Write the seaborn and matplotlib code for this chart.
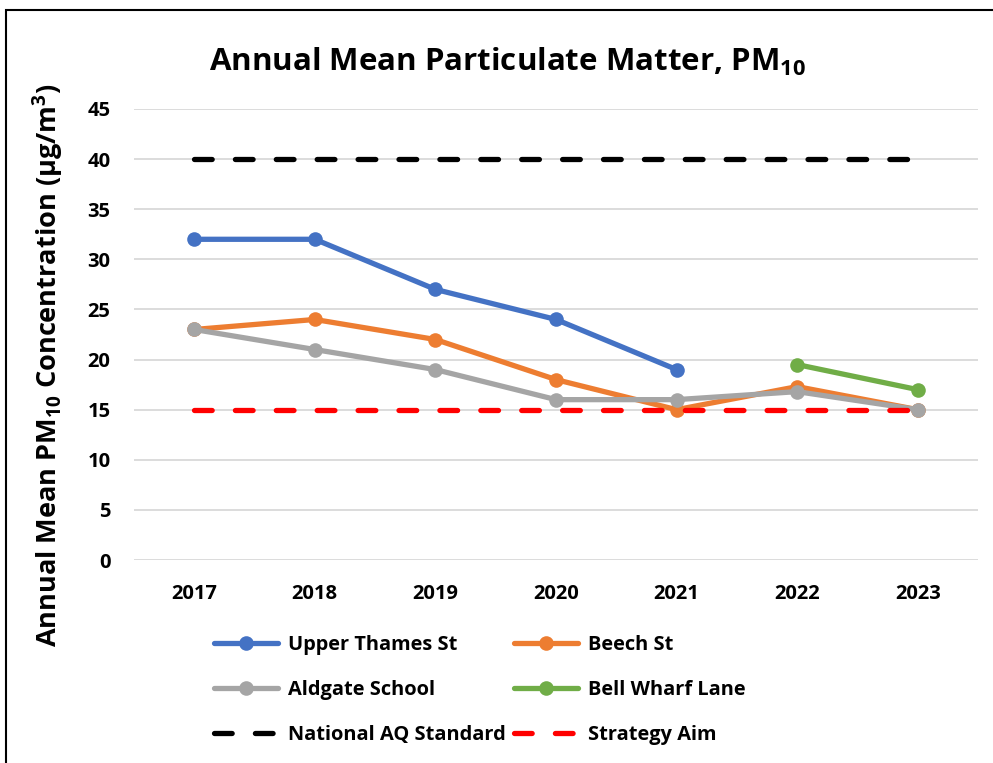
import numpy as np
import pandas as pd
import matplotlib
matplotlib.use("Agg")
import matplotlib.pyplot as plt
from matplotlib.patches import Rectangle
import seaborn as sns

# data
years = [2017, 2018, 2019, 2020, 2021, 2022, 2023]
upper_thames = [32, 32, 27, 24, 19, np.nan, np.nan]
beech = [23, 24, 22, 18, 15, 17.3, 15]
aldgate = [23, 21, 19, 16, 16, 16.8, 15]
bell_wharf = [np.nan, np.nan, np.nan, np.nan, np.nan, 19.5, 17]
national_std = [40, 40, 40, 40, 40, 40, 40]
strategy_aim = [15, 15, 15, 15, 15, 15, 15]

sns.set_theme(style="white")
plt.rcParams['font.family'] = ['Open Sans', 'DejaVu Sans']
plt.rcParams['font.weight'] = 'bold'
plt.rcParams['text.color'] = 'black'
plt.rcParams['xtick.color'] = 'black'
plt.rcParams['ytick.color'] = 'black'
plt.rcParams['mathtext.fontset'] = 'custom'
plt.rcParams['mathtext.rm'] = 'Open Sans:bold'
plt.rcParams['mathtext.it'] = 'Open Sans:bold'
plt.rcParams['mathtext.bf'] = 'Open Sans:bold'

fig = plt.figure(figsize=(9.93, 7.63), dpi=100)
ax = fig.add_axes([134 / 993, 1 - 560 / 763, 844 / 993, 451 / 763])

lw = 3.8
ms = 10.5
series = [
    ("Upper Thames St", upper_thames, "#4472C4"),
    ("Beech St", beech, "#ED7D31"),
    ("Aldgate School", aldgate, "#A5A5A5"),
    ("Bell Wharf Lane", bell_wharf, "#70AD47"),
]
handles = {}
for name, vals, col in series:
    df = pd.DataFrame({"year": years, "value": vals}).dropna()
    sns.lineplot(data=df, x="year", y="value", ax=ax, color=col, lw=lw,
                 marker="o", markersize=ms, markeredgewidth=0, label=name,
                 legend=False, zorder=3)
    handles[name] = ax.lines[-1]

for name, vals, col in [("National AQ Standard", national_std, "black"),
                        ("Strategy Aim", strategy_aim, "#FF0000")]:
    df = pd.DataFrame({"year": years, "value": vals})
    sns.lineplot(data=df, x="year", y="value", ax=ax, color=col, lw=lw,
                 label=name, legend=False, zorder=4)
    ln = ax.lines[-1]
    ln.set_dashes((3.35, 4.4))
    ln.set_dash_capstyle("round")
    handles[name] = ln

ax.set_xlim(2016.5, 2023.5)
ax.set_ylim(0, 45)
ax.set_yticks(range(0, 46, 5))
ax.set_xticks(years)
ax.grid(axis="y", color="#D9D9D9", lw=1.3, zorder=0)
for s in ax.spines.values():
    s.set_visible(False)
ax.tick_params(axis="both", length=0, labelsize=14.5)
ax.tick_params(axis="y", pad=17)
ax.tick_params(axis="x", pad=17)
for t in ax.get_xticklabels() + ax.get_yticklabels():
    t.set_fontweight("bold")

ax.set_xlabel("")
ax.set_ylabel("")
fig.text(48 / 993, 1 - 365 / 763, "Annual Mean PM$_{10}$ Concentration (µg/m$^3$)",
         rotation=90, ha="center", va="center", fontsize=19.5, fontweight="bold")
fig.text(507 / 993, 1 - 62 / 763, "Annual Mean Particulate Matter, PM$_{10}$",
         ha="center", va="center", fontsize=22.5, fontweight="bold")

order = ["Upper Thames St", "Aldgate School", "National AQ Standard",
         "Beech St", "Bell Wharf Lane", "Strategy Aim"]
leg = fig.legend([handles[k] for k in order], order, ncol=2,
                 loc="center left", bbox_to_anchor=(196 / 993, 1 - 690 / 763),
                 frameon=False, fontsize=14.4, handlelength=3.2,
                 labelspacing=1.25, columnspacing=0.4, handletextpad=0.5)
for t in leg.get_texts():
    t.set_fontweight("bold")

fig.patches.append(Rectangle((6 / 993, -0.1), 1.2, 1 - 10 / 763 + 0.1,
                             transform=fig.transFigure, fill=False,
                             edgecolor="black", lw=1.5))

fig.savefig("out.png", dpi=100)
